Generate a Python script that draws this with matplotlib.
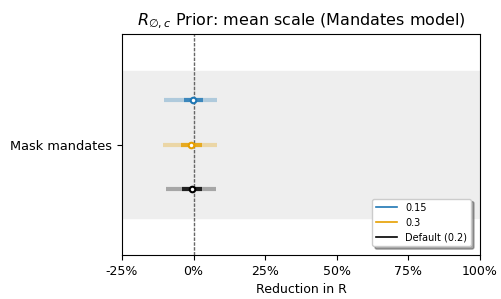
import matplotlib
matplotlib.use("Agg")
import matplotlib.pyplot as plt
import numpy as np

# data (percent reduction in R)
feature = "Mask mandates"
labels = ["0.15", "0.3", "Default (0.2)"]
colors = ["#1f77b4", "#E69F00", "k"]
medians = [-0.2, -1.0, -0.5]
lo_95 = [-10.2, -10.6, -9.7]
hi_95 = [8.1, 8.2, 7.8]
lo_50 = [-3.4, -4.5, -4.2]
hi_50 = [3.4, 2.8, 2.9]
offsets = [0.3, 0.0, -0.3]

fig, ax = plt.subplots(figsize=(5.02, 2.99), dpi=100)

ax.axhspan(-0.5, 0.5, color="#eeeeee", zorder=0)
ax.axvline(0, color="0.4", ls="--", lw=1, dashes=(2.5, 1), zorder=1)

for i in range(len(labels)):
    y = offsets[i]
    ax.plot([lo_95[i], hi_95[i]], [y, y], color=colors[i], alpha=0.3, lw=3, solid_capstyle="butt", zorder=2)
    ax.plot([lo_50[i], hi_50[i]], [y, y], color=colors[i], alpha=0.8, lw=3, solid_capstyle="butt", zorder=3)
    ax.plot(medians[i], y, marker="o", ms=4, mfc="white", mec=colors[i], mew=1.5, zorder=4)
    ax.plot([], [], color=colors[i], lw=1.2, label=labels[i])

ax.set_xlim(-25, 100)
ax.set_ylim(-0.75, 0.75)
ax.set_xticks([-25, 0, 25, 50, 75, 100])
ax.set_xticklabels(["-25%", "0%", "25%", "50%", "75%", "100%"], fontsize=9)
ax.set_yticks([0])
ax.set_yticklabels([feature], fontsize=9.3)
ax.set_xlabel("Reduction in R", fontsize=9)
ax.set_title(r"$R_{\varnothing,c}$ Prior: mean scale (Mandates model)", fontsize=11.5)

ax.legend(loc="lower right", shadow=True, fontsize=7, framealpha=1,
          borderaxespad=0.9, handlelength=2.2)

fig.subplots_adjust(left=0.243, right=0.956, top=0.886, bottom=0.147)
fig.savefig("out.png", dpi=100)
